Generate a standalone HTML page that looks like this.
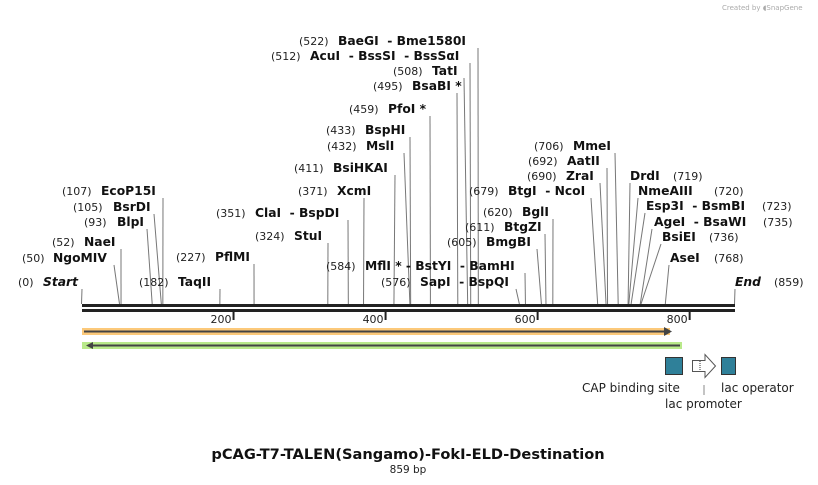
<!DOCTYPE html>
<html><head><meta charset="utf-8">
<style>
body{margin:0;background:#fff;}
svg{display:block;font-family:"DejaVu Sans","Liberation Sans",sans-serif;}
text{white-space:pre;}
.n{font-size:11px;fill:#222;}
.b{font-size:12.3px;font-weight:bold;fill:#111;}
</style></head><body>
<svg id="map" width="818" height="485" viewBox="0 0 818 485">
<text x="722" y="10" font-size="7" fill="#aaa">Created by ◖SnapGene</text>
<g id="sites"></g>
<rect x="82" y="304" width="653" height="3" fill="#222"/>
<rect x="82" y="309" width="653" height="3" fill="#222"/>
<g id="ticks"></g>
<g>
<rect x="82" y="328" width="588" height="7" fill="#fcc97a"/>
<line x1="84" y1="331.5" x2="666" y2="331.5" stroke="#444" stroke-width="2"/>
<polygon points="664,327 672,331.5 664,336" fill="#444"/>
</g>
<g>
<rect x="82" y="342" width="600" height="7" fill="#b9e98a"/>
<line x1="88" y1="345.5" x2="680" y2="345.5" stroke="#444" stroke-width="2"/>
<polygon points="86,345.5 93,342 93,349" fill="#444"/>
</g>
<rect x="665.5" y="357.5" width="17" height="17" fill="#2f8099" stroke="#333"/>
<polygon points="692.5,360.5 705,360.5 705,354.5 715.5,366 705,377.5 705,371.5 692.5,371.5" fill="#fff" stroke="#555"/>
<line x1="700" y1="361" x2="700" y2="371" stroke="#333" stroke-dasharray="1,1"/>
<rect x="721.5" y="357.5" width="14" height="17" fill="#2f8099" stroke="#333"/>
<text x="582" y="392" font-size="12" fill="#222">CAP binding site</text>
<line x1="704" y1="385" x2="704" y2="395" stroke="#888"/>
<text x="665" y="408" font-size="12" fill="#222">lac promoter</text>
<text x="721" y="392" font-size="12" fill="#222">lac operator</text>
<text x="408" y="459" text-anchor="middle" font-size="14.6" font-weight="bold" fill="#111">pCAG-T7-TALEN(Sangamo)-FokI-ELD-Destination</text>
<text x="408" y="473" text-anchor="middle" font-size="10.5" fill="#222">859 bp</text>
</svg>
<script>
const seqLength = 859;
const tickValues = [200, 400, 600, 800];
const siteNames = ["Start","NgoMIV","NaeI","BlpI","BsrDI","EcoP15I","TaqII","PflMI","StuI","ClaI  - BspDI","XcmI","BsiHKAI","MslI","BspHI","PfoI *","BsaBI *","TatI","AcuI  - BssSI  - BssSαI","BaeGI  - Bme1580I","SapI  - BspQI","MflI * - BstYI  - BamHI","BmgBI","BtgZI","BglI","BtgI  - NcoI","ZraI","AatII","MmeI","DrdI","NmeAIII","Esp3I  - BsmBI","AgeI  - BsaWI","BsiEI","AseI","End"];
const sitePositions = [0,50,52,93,105,107,182,227,324,351,371,411,432,433,459,495,508,512,522,576,584,605,611,620,679,690,692,706,719,720,723,735,736,768,859];
// label layout: [numberX, baselineY, lineTopX, nameX]
const labelLayout = [[18,286,82,43],[22,262,114,53],[52,246,121,84],[84,226,147,117],[73,211,154,113],[62,195,163,101],[139,286,220,178],[176,261,254,215],[255,240,328,294],[216,217,348,255],[298,195,364,337],[294,172,395,333],[327,150,404,366],[326,134,410,365],[349,113,430,388],[373,90,457,412],[393,75,464,432],[271,60,470,310],[299,45,478,338],[381,286,516,420],[326,270,525,365],[447,246,537,486],[465,231,545,504],[483,216,553,522],[469,195,591,508],[527,180,600,566],[528,165,607,567],[534,150,615,573],[673,180,630,630],[714,195,638,638],[762,210,645,646],[763,226,652,654],[709,241,661,662],[714,262,669,670],[774,286,735,735]];
const NS="http://www.w3.org/2000/svg";
function xScale(bp){return 81.5 + bp*(653/seqLength);}
const sites=document.getElementById('sites');
siteNames.forEach((nm,i)=>{
  const [nx,ty,lx,mx]=labelLayout[i];
  const g=document.createElementNS(NS,'g');
  
  
  const x=xScale(sitePositions[i]);
  const ln=document.createElementNS(NS,'line');
  ln.setAttribute('x1',lx);ln.setAttribute('y1',ty+3);
  ln.setAttribute('x2',x);ln.setAttribute('y2',304);
  ln.setAttribute('stroke','#777');ln.setAttribute('stroke-width','1');
  g.appendChild(ln);
  const t1=document.createElementNS(NS,'text');
  t1.setAttribute('x',nx);t1.setAttribute('y',ty);t1.setAttribute('class','n');
  t1.textContent='('+sitePositions[i]+')';
  g.appendChild(t1);
  const t2=document.createElementNS(NS,'text');
  t2.setAttribute('x',mx);t2.setAttribute('y',ty);t2.setAttribute('class','b');
  if(nm==='Start'||nm==='End') t2.setAttribute('font-style','italic');
  t2.textContent=nm;
  g.appendChild(t2);
  sites.appendChild(g);
});
const ticks=document.getElementById('ticks');
tickValues.forEach(v=>{
  const x=xScale(v);
  const l=document.createElementNS(NS,'line');
  l.setAttribute('x1',x);l.setAttribute('x2',x);l.setAttribute('y1',312);l.setAttribute('y2',320);
  l.setAttribute('stroke','#222');l.setAttribute('stroke-width','2');
  
  
  ticks.appendChild(l);
  const t=document.createElementNS(NS,'text');
  t.setAttribute('x',x-2);t.setAttribute('y',323);t.setAttribute('text-anchor','end');t.setAttribute('class','n');
  t.textContent=v;
  
  
  ticks.appendChild(t);
});
</script>
</body></html>
